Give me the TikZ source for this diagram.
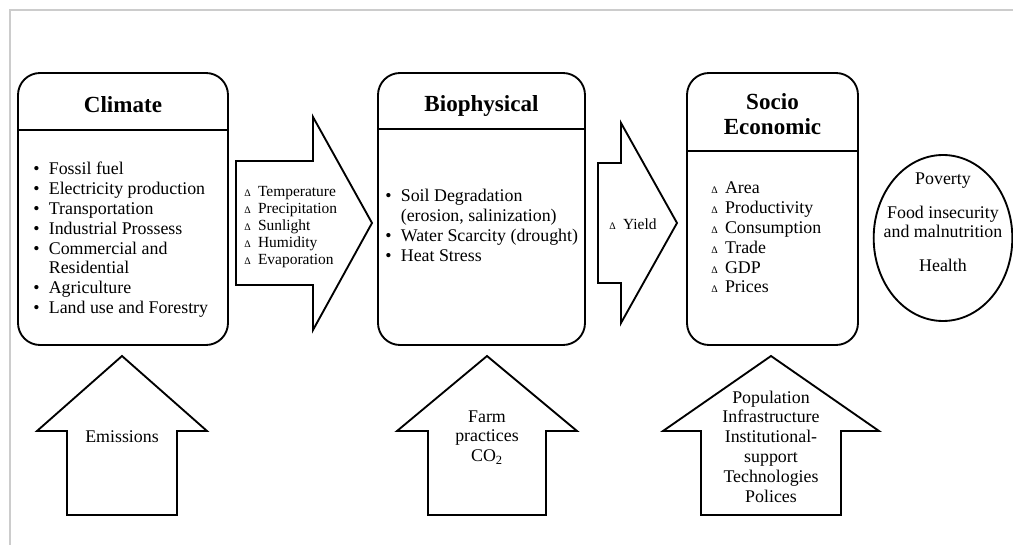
\documentclass[tikz,border=0pt]{standalone}
\usepackage{fontspec}
\setmainfont{Liberation Serif}
\usetikzlibrary{shapes.geometric}
\newcommand{\bodyfont}{\fontsize{13.4}{14.85}\selectfont}
\newcommand{\smallfont}{\fontsize{11.6}{12.75}\selectfont}
\newcommand{\titlefont}{\fontsize{17.3}{18.4}\selectfont\bfseries}
\newcommand{\dlt}{{\fontsize{7.5}{7.5}\selectfont Δ}\hspace{5.5pt}}
\tikzset{
  box/.style={draw, line width=1.4pt, rounded corners=16.5pt, inner sep=0pt, minimum height=204pt},
  divider/.style={line width=1.1pt},
  blockarrow/.style={draw, line width=1.4pt, line join=miter},
  frame/.style={draw=black!20, line width=1.1pt},
  txt/.style={inner sep=0pt, font=\bodyfont},
  ttl/.style={inner sep=0pt, font=\titlefont}
}
\begin{document}
\begin{tikzpicture}[x=0.75pt, y=-0.75pt]
\useasboundingbox (0,0) rectangle (1013,545);
% frame
\coordinate (fa) at (10,545);
\coordinate (fb) at (10,10);
\coordinate (fc) at (1013,10);
\draw[frame] (fa) -- (fb) -- (fc);

% main boxes
\node[box, minimum width=157.5pt] (climate) at (123,209) {};
\node[box, minimum width=155.25pt] (bio) at (481.5,209) {};
\node[box, minimum width=128.25pt] (socio) at (772.5,209) {};
\path (0,130) coordinate (d1) (0,129) coordinate (d2) (0,151) coordinate (d3);
\draw[divider] (climate.west |- d1) -- (climate.east |- d1);
\draw[divider] (bio.west |- d2) -- (bio.east |- d2);
\draw[divider] (socio.west |- d3) -- (socio.east |- d3);

% titles
\node[ttl, anchor=base] (tclim) at (123,112.5) {Climate};
\node[ttl, anchor=base] (tbio) at (481.5,111.7) {Biophysical};
\node[ttl, anchor=base] (tsoc) at (772.5,109.5) {\begin{tabular}[t]{@{}c@{}}Socio\\Economic\end{tabular}};

% lists
\node[txt, anchor=base west] (lclim) at (33,175) {\begin{tabular}[t]{@{}l@{\hspace{7pt}}l@{}}
\textbullet & Fossil fuel\\
\textbullet & Electricity production\\
\textbullet & Transportation\\
\textbullet & Industrial Prossess\\
\textbullet & Commercial and\\
 & Residential\\
\textbullet & Agriculture\\
\textbullet & Land use and Forestry
\end{tabular}};
\node[txt, anchor=base west] (lbio) at (385,202) {\begin{tabular}[t]{@{}l@{\hspace{7pt}}l@{}}
\textbullet & Soil Degradation\\
 & (erosion, salinization)\\
\textbullet & Water Scarcity (drought)\\
\textbullet & Heat Stress
\end{tabular}};
\node[txt, anchor=base west] (lsoc) at (711,194) {\begin{tabular}[t]{@{}l@{}}
\dlt Area\\
\dlt Productivity\\
\dlt Consumption\\
\dlt Trade\\
\dlt GDP\\
\dlt Prices
\end{tabular}};

% right arrows
\draw[blockarrow] (236,161) -- (313,161) -- (313,117) -- (372,223) -- (313,330) -- (313,285) -- (236,285) -- cycle;
\node[inner sep=0pt, font=\smallfont, anchor=base west] (lclimvar) at (244,196.5) {\begin{tabular}[t]{@{}l@{}}
\dlt Temperature\\
\dlt Precipitation\\
\dlt Sunlight\\
\dlt Humidity\\
\dlt Evaporation
\end{tabular}};
\draw[blockarrow] (598,163) -- (621,163) -- (621,123) -- (677,223) -- (621,323) -- (621,283) -- (598,283) -- cycle;
\node[inner sep=0pt, font=\smallfont, anchor=base west] (lyield) at (609,229.5) {\dlt Yield};

% outcome ellipse
\node[draw, ellipse, line width=1.4pt, minimum width=104pt, minimum height=124.5pt, inner sep=0pt] (circ) at (943,238) {};
\node[txt, anchor=base] (lcirc) at (943,185) {\begin{tabular}[t]{@{}c@{}}
Poverty\\[10pt]
Food insecurity\\
and malnutrition\\[10pt]
Health
\end{tabular}};

% upward arrows
\draw[blockarrow] (122,356) -- (207,431) -- (177,431) -- (177,515) -- (67,515) -- (67,431) -- (37,431) -- cycle;
\node[txt, anchor=base] (lemis) at (122,442) {Emissions};
\draw[blockarrow] (487,356) -- (577,431) -- (546,431) -- (546,515) -- (428,515) -- (428,431) -- (397,431) -- cycle;
\node[txt, anchor=base] (lfarm) at (487,422) {\begin{tabular}[t]{@{}c@{}}
Farm\\
practices\\
CO\textsubscript{2}
\end{tabular}};
\draw[blockarrow] (771,356) -- (879,431) -- (841,431) -- (841,515) -- (701,515) -- (701,431) -- (663,431) -- cycle;
\node[txt, anchor=base] (lpop) at (771,403) {\begin{tabular}[t]{@{}c@{}}
Population\\
Infrastructure\\
Institutional-\\
support\\
Technologies\\
Polices
\end{tabular}};
\end{tikzpicture}
\end{document}
